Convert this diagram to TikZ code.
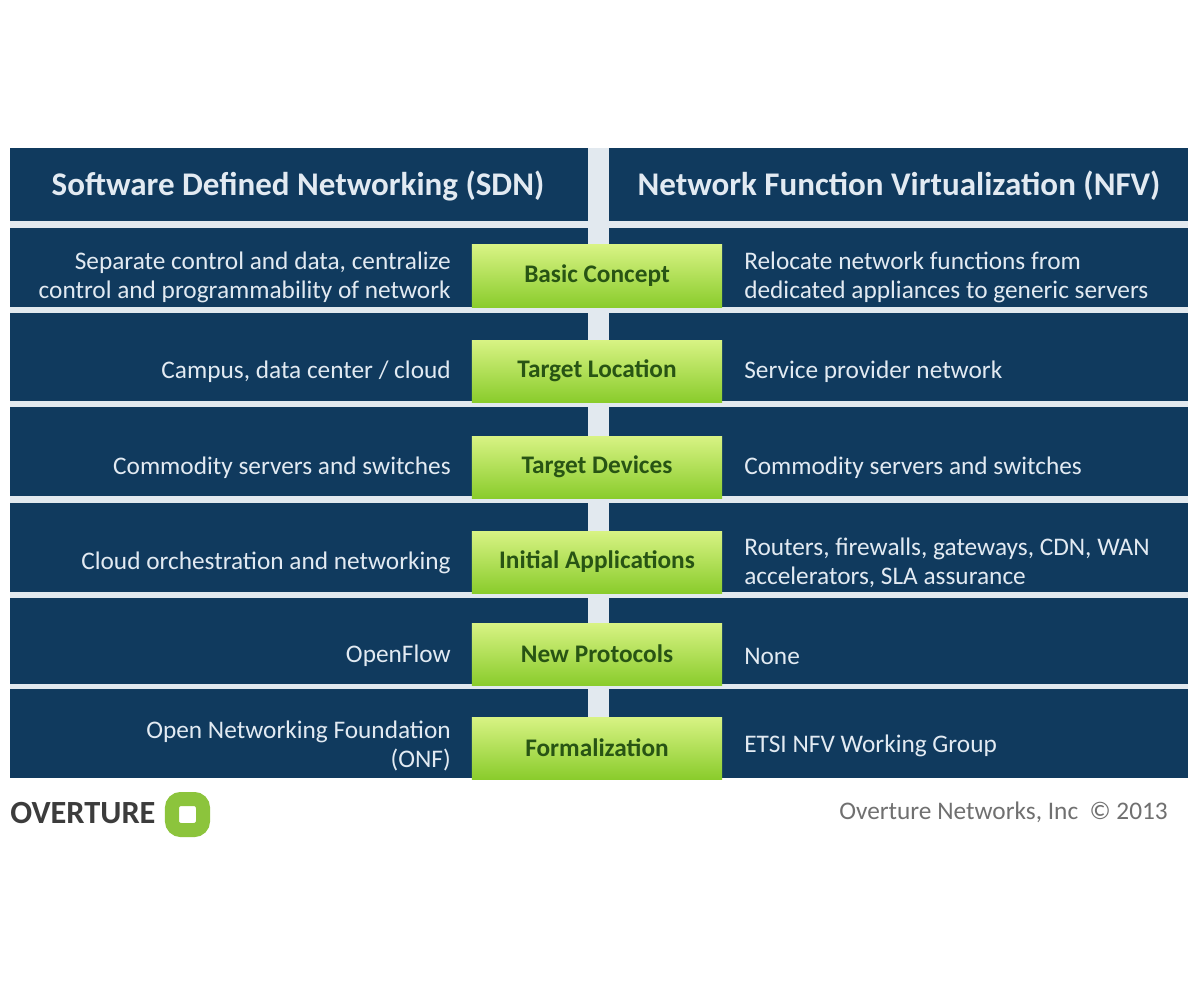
\documentclass[tikz,border=0pt]{standalone}
\usepackage{fontspec}
\setmainfont{Carlito}
\definecolor{navy}{RGB}{16,58,94}
\definecolor{gap}{RGB}{226,233,239}
\definecolor{limetop}{RGB}{216,243,132}
\definecolor{limebot}{RGB}{138,204,44}
\definecolor{leaf}{RGB}{40,84,20}
\definecolor{pale}{RGB}{226,234,242}
\definecolor{logogreen}{RGB}{140,196,60}
\definecolor{logotext}{RGB}{60,60,60}
\definecolor{greytext}{RGB}{112,112,112}

\begin{document}
\begin{tikzpicture}[x=0.025cm, y=-0.025cm,
  head/.style={text=pale, font=\fontsize{23.5}{28}\selectfont\bfseries},
  sdn/.style={text=pale, anchor=east, align=right, inner sep=0pt, font=\fontsize{18}{20.5}\selectfont},
  nfv/.style={text=pale, anchor=west, align=left, inner sep=0pt, font=\fontsize{18}{20.5}\selectfont},
  concept/.style={top color=limetop, bottom color=limebot, text=leaf, minimum width=6.25cm, minimum height=1.55cm, inner sep=0pt, font=\fontsize{18}{21}\selectfont\bfseries}]

\useasboundingbox[fill=white] (0,0) rectangle (1200,981);

% panels
\fill[gap] (10,148) rectangle (1188,778);
\fill[navy] (10,148) rectangle (588,221);
\fill[navy] (609,148) rectangle (1188,221);
\fill[navy] (10,228) rectangle (588,307);
\fill[navy] (609,228) rectangle (1188,307);
\fill[navy] (10,313) rectangle (588,401);
\fill[navy] (609,313) rectangle (1188,401);
\fill[navy] (10,407) rectangle (588,496);
\fill[navy] (609,407) rectangle (1188,496);
\fill[navy] (10,503) rectangle (588,592);
\fill[navy] (609,503) rectangle (1188,592);
\fill[navy] (10,598) rectangle (588,684);
\fill[navy] (609,598) rectangle (1188,684);
\fill[navy] (10,689) rectangle (588,778);
\fill[navy] (609,689) rectangle (1188,778);

\node[head] (H1) at (298,186) {Software Defined Networking (SDN)};
\node[head] (H2) at (899,186) {Network Function Virtualization (NFV)};

\node[sdn] (L1) at (451,277) {Separate control and data, centralize\\control and programmability of network};
\node[concept] (C1) at (597,276) {Basic Concept};
\node[nfv] (R1) at (744,277) {Relocate network functions from\\dedicated appliances to generic servers};

\node[sdn] (L2) at (451,372) {Campus, data center / cloud};
\node[concept] (C2) at (597,371) {Target Location};
\node[nfv] (R2) at (744,372) {Service provider network};

\node[sdn] (L3) at (451,468) {Commodity servers and switches};
\node[concept] (C3) at (597,467) {Target Devices};
\node[nfv] (R3) at (744,468) {Commodity servers and switches};

\node[sdn] (L4) at (451,563) {Cloud orchestration and networking};
\node[concept] (C4) at (597,562) {Initial Applications};
\node[nfv] (R4) at (744,563) {Routers, firewalls, gateways, CDN, WAN\\accelerators, SLA assurance};

\node[sdn] (L5) at (451,656) {OpenFlow};
\node[concept] (C5) at (597,654) {New Protocols};
\node[nfv] (R5) at (744,656) {None};

\node[sdn] (L6) at (451,746) {Open Networking Foundation\\(ONF)};
\node[concept] (C6) at (597,748) {Formalization};
\node[nfv] (R6) at (744,746) {ETSI NFV Working Group};

% footer
\node[anchor=west, inner sep=0pt, text=logotext, font=\fontsize{23}{26}\selectfont\bfseries] (brand) at (10,813) {OVERTURE};
\node[draw=logogreen, line width=0.35cm, minimum size=0.775cm, inner sep=0pt, rounded corners=0.22cm] (ring) at (187.5,814.5) {};
\node[anchor=east, inner sep=0pt, text=greytext, font=\fontsize{18}{21}\selectfont] (copy) at (1168,812) {Overture Networks, Inc\ \ \textcopyright\ 2013};
\end{tikzpicture}
\end{document}
